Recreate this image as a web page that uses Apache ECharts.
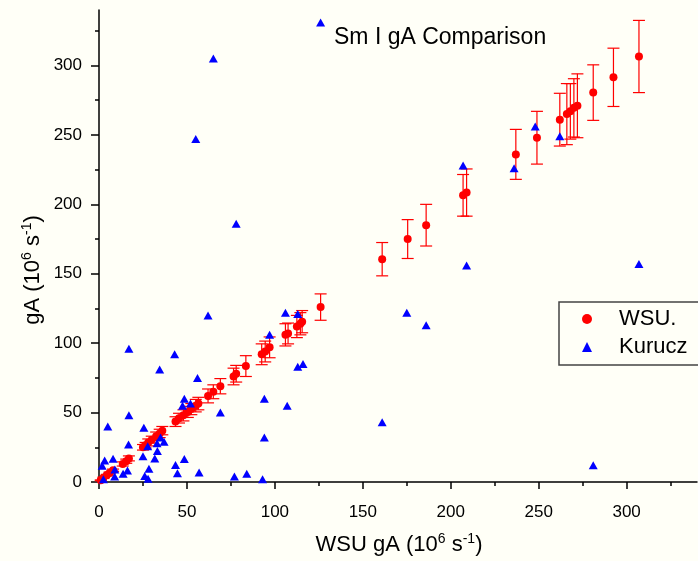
<!DOCTYPE html>
<html><head><meta charset="utf-8">
<script src="https://cdn.jsdelivr.net/npm/echarts@6/dist/echarts.min.js"></script>
<style>html,body{margin:0;padding:0;background:#fffff7}#c{width:698px;height:561px}</style>
</head><body><div id="c"></div><script>
// WSU (x = WSU gA, y = WSU gA, symmetric error)
const wsuX = [1.0,2.5,4.5,6,8,13.5,15.5,17,25,26.5,28,30,32.5,34.5,36,43.5,45.5,48,50.5,52.5,55,56.5,62,65,69,76.5,78,83.5,92.5,94.5,97,106,107.5,112.5,114.5,115.5,126,161,175.5,186,207,209,237,249,262,266,268,270,272,281,292.5,307];
const wsuY = [1.2,3,5,6.5,8.5,13,15,17,25,26.5,28.5,30.5,33,35,37,43.5,46,48,50.5,52.5,55,56.5,62,65,69,76,78,83.5,92,94,97,106,107,112,114,115.5,126,160.5,175,185,206.5,208.5,236,248,261,265,267,269.5,271,280.5,291.5,306.5];
const wsuErr = [0.3,0.5,0.5,0.6,0.8,1.5,1.5,1.8,2,2,2.5,2.5,3,3,3,3.5,3.5,4,4,4,4.5,4.5,5,5,5.5,6,6,7.5,7.5,7.5,7.5,8,7.5,8,8,8,9.5,12,14,15,15,17,18,19,19,22,20,21,23,20,21,26];
// Kurucz
const kuruczX = [126,65,55,78,207,236,248,262,209,307,175,186,161,281,62,106,113,97,113,116,69,94,107,94,77,84,93,48.5,52,47.5,17,5,25.5,16.8,35,37,33,27.7,33.2,25,31.7,3.2,8,1.8,9,16.2,13.7,28.4,48.5,43.5,44.6,56.9,26,27.9,8.9,2.5,17,43,34.5,56];
const kuruczY = [331,305,247,186,228,226,256,249,156,157,122,113,43,12,120,122,121,106,83,85,50,60,55,32,4,6,2,60,56.5,55,48,40,39,27,32,29,28,25.7,22.3,18.5,17,15.5,16.8,11.7,9,8.3,6,9.6,16.6,12.2,6.3,6.8,4.3,2.4,4,2,96,92,81,75];
const majorTicks = [0,50,100,150,200,250,300];
const minorTicks = [25,75,125,175,225,275,325];

const FONT = 'Liberation Sans, Arial, sans-serif';
const wsuData = wsuX.map((x,i)=>[x, wsuY[i]]);
const errData = wsuX.map((x,i)=>[x, wsuY[i]-wsuErr[i], wsuY[i]+wsuErr[i]]);
const kurData = kuruczX.map((x,i)=>[x, kuruczY[i]]);

function mainAxis(isX){
  return {
    type:'value', min:0, max:340, position: isX?'bottom':'left',
    axisLine:{show:true, onZero:false, lineStyle:{color:'#000', width:1.5}},
    axisTick:{show:true, inside:false, length: isX?7:8, customValues: majorTicks, lineStyle:{color:'#000', width:1.5}},
    axisLabel:{show:true, customValues: majorTicks, margin: isX?22:17, color:'#000', fontSize:17, fontFamily:FONT},
    splitLine:{show:false}
  };
}
function minorAxis(isX){
  return {
    type:'value', min:0, max:340, position: isX?'bottom':'left',
    axisLine:{show:false, onZero:false},
    axisTick:{show:true, inside:false, length:4, customValues: minorTicks, lineStyle:{color:'#000', width:1.5}},
    axisLabel:{show:false},
    splitLine:{show:false}
  };
}
const sup = {fontSize:14, fontFamily:FONT, verticalAlign:'top', lineHeight:15, fill:'#000'};
const chart = echarts.init(document.getElementById('c'), null, {renderer:'canvas'});
chart.setOption({
  animation:false,
  backgroundColor:'#fffff7',
  grid:{left:99, right:1, top:10, bottom:79, containLabel:false, outerBoundsMode:'none'},
  title:{text:'Sm I gA Comparison', left:334, top:26, padding:0, textStyle:{fontSize:23, fontWeight:'normal', color:'#000', fontFamily:FONT}},
  legend:{
    data:['WSU.','Kurucz'], orient:'vertical', left:559, top:302,
    padding:[5,40,6,23], itemGap:4, itemWidth:10, itemHeight:10,
    borderColor:'#444', borderWidth:1.5, borderRadius:0,
    textStyle:{fontSize:22, lineHeight:24, color:'#000', fontFamily:FONT, padding:[0,0,0,22]}
  },
  xAxis:[mainAxis(true), minorAxis(true)],
  yAxis:[mainAxis(false), minorAxis(false)],
  graphic:[
    {type:'text', x:399, y:545, style:{text:'WSU gA (10{s|6} s{s|-1})', align:'center', verticalAlign:'middle', fontSize:22, fontFamily:FONT, fill:'#000', lineHeight:25, rich:{s:sup}}},
    {type:'text', x:33, y:270, rotation:Math.PI/2, style:{text:'gA (10{s|6} s{s|-1})', align:'center', verticalAlign:'middle', fontSize:22, fontFamily:FONT, fill:'#000', lineHeight:25, rich:{s:sup}}}
  ],
  series:[
    {
      type:'custom', name:'err', xAxisIndex:0, yAxisIndex:0, z:2,
      encode:{x:0, y:[1,2]},
      data: errData,
      renderItem:function(params, api){
        const x = api.value(0), lo = api.value(1), hi = api.value(2);
        const p1 = api.coord([x, hi]), p2 = api.coord([x, lo]);
        const hw = 6;
        const st = {stroke:'#ff0000', lineWidth:1.2};
        return {type:'group', children:[
          {type:'line', shape:{x1:p1[0], y1:p1[1], x2:p2[0], y2:p2[1]}, style:st},
          {type:'line', shape:{x1:p1[0]-hw, y1:p1[1], x2:p1[0]+hw, y2:p1[1]}, style:st},
          {type:'line', shape:{x1:p2[0]-hw, y1:p2[1], x2:p2[0]+hw, y2:p2[1]}, style:st}
        ]};
      }
    },
    {type:'scatter', name:'WSU.', data:wsuData, symbol:'circle', symbolSize:8, itemStyle:{color:'#ff0000', opacity:1}, z:3},
    {type:'scatter', name:'Kurucz', data:kurData, symbol:'triangle', symbolSize:[9,8], itemStyle:{color:'#0000ff', opacity:1}, z:4}
  ]
});
</script></body></html>
